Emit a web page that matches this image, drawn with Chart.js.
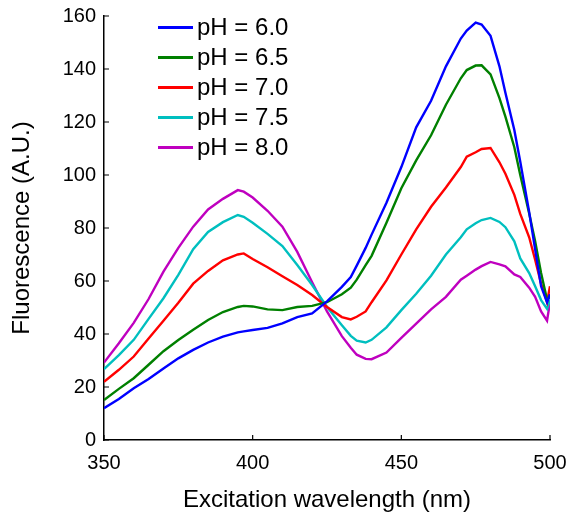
<!DOCTYPE html>
<html>
<head>
<meta charset="utf-8">
<script src="https://cdn.jsdelivr.net/npm/chart.js@4/dist/chart.umd.min.js"></script>
<style>
  html, body { margin:0; padding:0; background:#fff; }
  #wrap { position:relative; width:573px; height:515px; }
  #legend { position:absolute; left:158px; top:12px; font-family:'Liberation Sans', Arial, sans-serif; font-size:24px; color:#000; }
  .row { display:flex; align-items:center; height:30px; }
  .sw { width:35px; height:3px; margin-right:4px; }
</style>
</head>
<body>
<div id="wrap">
  <canvas id="c" width="573" height="515"></canvas>
  <div id="legend"></div>
</div>
<script>
const wavelengths = [350,355,360,365,370,375,380,385,390,395,397,400,405,410,415,420,425,430,433,435,438,440,445,450,455,460,465,470,472,475,477,480,483,485,488,490,493,495,497,499,500];

const ph60 = [12,15.5,19.5,23,27,30.8,34,36.8,39,40.6,41,41.5,42.3,44,46.4,47.8,52.3,57.8,61.5,65.8,72.5,77.5,89.5,103,118,128,141,151.5,154.5,157.5,156.8,152.5,141,131,117,105,86,72,58,52,55];
const ph65 = [15.1,19.3,23.3,28.4,33.5,37.7,41.6,45.3,48.3,50.2,50.6,50.4,49.3,49,50.2,50.6,52,55,57.5,60.5,66,69.5,82,95,105.5,115,126.5,136.5,139.6,141.3,141.4,138,129,122,110.5,100,85.5,75,63,53,54];
const ph70 = [22,26.5,31.5,38.3,45,51.8,59,63.8,67.8,70,70.4,68.3,65.2,61.8,58.5,54.7,50.2,46.4,45.5,46.5,48.5,52,60.2,70,79.5,88,95.3,103,106.9,108.6,109.8,110.2,104.8,100.5,92.5,85.3,76.5,68,59,52,58];
const ph75 = [26.7,32,37.8,45.7,53.5,62.3,72,78.5,82.2,84.9,84.2,82,77.8,73.2,66,58.5,50.2,43.3,39.3,37.5,36.8,37.8,42.5,49,55.2,62,70,76.5,79.5,81.8,83,83.8,82.3,80.3,75,68.5,63,58,52.8,49.5,53];
const ph80 = [29.2,36.5,44.2,53.2,63.5,72.5,80.5,87,91,94.3,93.7,91.5,86.5,80.5,71,59.5,48.5,39.2,34.8,32.2,30.6,30.5,33,38.5,43.9,49.3,54,60.5,62,64.3,65.6,67.2,66.3,65.5,62.5,61.5,57.5,54,48.5,45,52];

const seriesNames  = ['pH = 6.0','pH = 6.5','pH = 7.0','pH = 7.5','pH = 8.0'];
const seriesValues = [ph60, ph65, ph70, ph75, ph80];
const seriesColors = ['#0000ff','#008000','#ff0000','#00bfbf','#bf00bf'];

const xTicks = [350,400,450,500];
const yTicks = [0,20,40,60,80,100,120,140,160];

const FONT = "'Liberation Sans', Arial, sans-serif";

// ticks pointing into the plot, MATLAB style
const innerTicks = {
  id:'innerTicks',
  afterDraw(chart) {
    const { ctx, chartArea:a, scales:{x, y} } = chart;
    ctx.save();
    ctx.strokeStyle = '#000';
    ctx.lineWidth = 1.2;
    ctx.beginPath();
    xTicks.forEach(v => { const p = x.getPixelForValue(v); ctx.moveTo(p, a.bottom); ctx.lineTo(p, a.bottom-5); });
    yTicks.forEach(v => { const p = y.getPixelForValue(v); ctx.moveTo(a.left, p); ctx.lineTo(a.left+5, p); });
    ctx.stroke();
    ctx.restore();
  }
};

new Chart(document.getElementById('c'), {
  type:'line',
  data:{
    datasets: seriesNames.map((name,i) => ({
      label:name,
      data: wavelengths.map((w,j) => ({ x:w, y:seriesValues[i][j] })),
      borderColor: seriesColors[i],
      borderWidth:2.4,
      pointRadius:0,
      tension:0,
      fill:false,
    }))
  },
  options:{
    responsive:false, animation:false,
    layout:{ padding:{ top:16, right:23, left:0, bottom:0 } },
    plugins:{ legend:{display:false}, tooltip:{enabled:false} },
    scales:{
      x:{
        type:'linear', min:350, max:500,
        afterFit: s => { s.height = 75; s.paddingLeft = 0; s.paddingRight = 0; },
        afterBuildTicks: s => { s.ticks = xTicks.map(v => ({ value:v })); },
        grid:{ display:true, drawOnChartArea:false, drawTicks:false },
        border:{ display:true, color:'#000', width:1.5 },
        ticks:{ color:'#000', padding:11, maxRotation:0, font:{ family:FONT, size:20 } },
        title:{ display:true, text:'Excitation wavelength (nm)', color:'#000', padding:{top:0,bottom:0}, font:{ family:FONT, size:24 } }
      },
      y:{
        min:0, max:160,
        afterFit: s => { s.width = 104; s.paddingTop = 0; s.paddingBottom = 0; },
        afterBuildTicks: s => { s.ticks = yTicks.map(v => ({ value:v })); },
        grid:{ display:true, drawOnChartArea:false, drawTicks:false },
        border:{ display:true, color:'#000', width:1.5 },
        ticks:{ color:'#000', padding:8, font:{ family:FONT, size:20 } },
        title:{ display:true, text:'Fluorescence (A.U.)', color:'#000', padding:{top:8,bottom:0}, font:{ family:FONT, size:24 } }
      }
    }
  },
  plugins:[innerTicks]
});

const lg = document.getElementById('legend');
seriesNames.forEach((name,i) => {
  const r = document.createElement('div'); r.className = 'row';
  r.innerHTML = '<div class="sw" style="background:'+seriesColors[i]+'"></div><span>'+name+'</span>';
  lg.appendChild(r);
});
</script>
</body>
</html>
